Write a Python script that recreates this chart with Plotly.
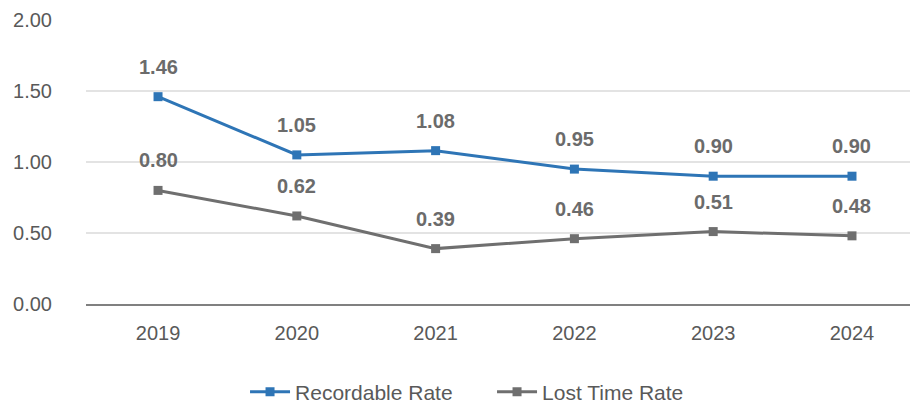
import plotly.graph_objects as go

years = ["2019", "2020", "2021", "2022", "2023", "2024"]
recordable = [1.46, 1.05, 1.08, 0.95, 0.90, 0.90]
lost_time = [0.80, 0.62, 0.39, 0.46, 0.51, 0.48]
y_ticks = [0, 0.5, 1.0, 1.5, 2.0]
y_tick_text = ["0.00", "0.50", "1.00", "1.50", "2.00"]

blue = "#2E75B6"
gray = "#6F6F6F"
label_color = "#6B6B6B"
tick_color = "#595959"
font_family = "Liberation Sans, Arial, sans-serif"

xs = list(range(len(years)))

fig = go.Figure()
fig.add_trace(go.Scatter(
    x=xs, y=recordable, name="Recordable Rate", mode="lines+markers",
    line=dict(color=blue, width=3), marker=dict(symbol="square", size=9, color=blue)))
fig.add_trace(go.Scatter(
    x=xs, y=lost_time, name="Lost Time Rate", mode="lines+markers",
    line=dict(color=gray, width=3), marker=dict(symbol="square", size=9, color=gray)))

for series in (recordable, lost_time):
    for xi, v in zip(xs, series):
        fig.add_annotation(x=xi, y=v, text=f"<b>{v:.2f}</b>", showarrow=False,
                           yshift=30, font=dict(size=20, color=label_color, family=font_family))

fig.update_layout(
    width=910, height=403,
    margin=dict(l=86, r=0, t=20, b=99, autoexpand=False),
    plot_bgcolor="white", paper_bgcolor="white",
    font=dict(family=font_family, size=20, color=tick_color),
    showlegend=True,
    legend=dict(orientation="h", x=0.193, xanchor="left", yref="container",
                y=0.027, yanchor="middle", entrywidth=192, entrywidthmode="pixels",
                font=dict(size=21, color=tick_color), itemwidth=40, tracegroupgap=0),
    xaxis=dict(tickmode="array", tickvals=xs, ticktext=years, range=[-0.519, 5.418],
               showgrid=False, showline=True, linecolor="#808080", linewidth=2,
               ticks="", ticklabelstandoff=10, tickfont=dict(size=20, color=tick_color),
               zeroline=False, automargin=False),
    yaxis=dict(range=[0, 2], tickvals=y_ticks, ticktext=y_tick_text,
               showgrid=True, gridcolor="#E3E3E3", gridwidth=1.5, zeroline=False,
               showline=False, ticks="", ticklabelstandoff=33, automargin=False,
               tickfont=dict(size=20, color=tick_color)),
)

fig.write_html("out.html")
